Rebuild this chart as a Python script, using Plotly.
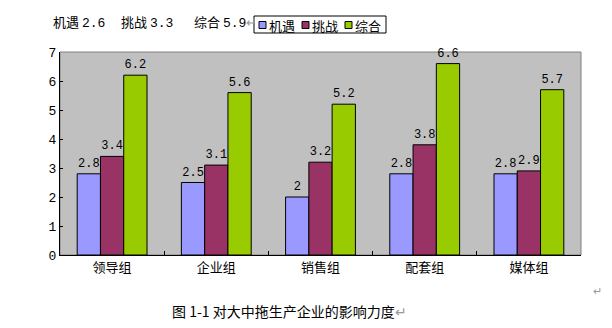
import plotly.graph_objects as go

categories = ["领导组", "企业组", "销售组", "配套组", "媒体组"]
series_names = ["机遇", "挑战", "综合"]
jiyu = [2.8, 2.5, 2.0, 2.8, 2.8]
tiaozhan = [3.4, 3.1, 3.2, 3.8, 2.9]
zonghe = [6.2, 5.6, 5.2, 6.6, 5.7]
y_ticks = [0, 1, 2, 3, 4, 5, 6, 7]
summary_labels = ["机遇", "挑战", "综合"]
summary_values = ["2.6", "3.3", "5.9"]
caption = "图 1-1 对大中拖生产企业的影响力度"

colors = ["#9999FF", "#993366", "#99CC00"]
values = [jiyu, tiaozhan, zonghe]

W, H = 612, 328
L, R, T, B = 60, 31, 52, 73
pw, ph = W - L - R, H - T - B

def px(x):
    return (x - L) / pw

def py(y):
    return (H - B - y) / ph

num_font = "Liberation Mono, Noto Sans CJK SC, monospace"
cjk_font = "Noto Sans CJK SC, sans-serif"

fig = go.Figure()
for name, vals, c in zip(series_names, values, colors):
    fig.add_trace(go.Bar(
        x=categories, y=vals, name=name,
        marker=dict(color=c, line=dict(color="black", width=1)),
        text=[f"{v:g}" for v in vals], textposition="outside",
        textfont=dict(family=num_font, size=12, color="black"),
        cliponaxis=False, showlegend=False,
    ))

shapes = [dict(type="rect", xref="paper", yref="paper", x0=0, x1=1, y0=0, y1=1,
               line=dict(color="#808080", width=1), fillcolor="rgba(0,0,0,0)", layer="below")]
annotations = []

# manual legend
shapes.append(dict(type="rect", xref="paper", yref="paper",
                   x0=px(254), x1=px(386), y0=py(33), y1=py(16),
                   line=dict(color="black", width=1), fillcolor="white"))
sq_x = [259, 302, 345]
for name, c, sx in zip(series_names, colors, sq_x):
    shapes.append(dict(type="rect", xref="paper", yref="paper",
                       x0=px(sx), x1=px(sx + 7), y0=py(28.5), y1=py(21.5),
                       line=dict(color="black", width=1), fillcolor=c))
    annotations.append(dict(text=name, xref="paper", yref="paper", x=px(sx + 8), y=py(25),
                            xanchor="left", yanchor="middle", showarrow=False,
                            font=dict(family=cjk_font, size=13, color="black")))

sum_x = [51, 119, 192]
for i, (lab, val, sx) in enumerate(zip(summary_labels, summary_values, sum_x)):
    txt = f"{lab} <span style='font-family:Liberation Mono, monospace'>{val}</span>"
    if i == len(summary_labels) - 1:
        txt += "<span style='color:#999'>↵</span>"
    annotations.append(dict(text=txt, xref="paper", yref="paper", x=px(sx), y=py(22),
                            xanchor="left", yanchor="middle", showarrow=False,
                            font=dict(family=cjk_font, size=13, color="black")))
annotations.append(dict(text=caption + "<span style='color:#999'>↵</span>", xref="paper", yref="paper",
                        x=px(170), y=py(311), xanchor="left", yanchor="middle", showarrow=False,
                        font=dict(family=cjk_font, size=14, color="black")))
annotations.append(dict(text="↵", xref="paper", yref="paper", x=px(597), y=py(290),
                        xanchor="center", yanchor="middle", showarrow=False,
                        font=dict(family=cjk_font, size=11, color="#999999")))

fig.update_layout(
    width=W, height=H,
    margin=dict(l=L, r=R, t=T, b=B, pad=0),
    paper_bgcolor="white", plot_bgcolor="#C0C0C0",
    barmode="group", bargap=0.33, bargroupgap=0,
    shapes=shapes, annotations=annotations,
    font=dict(family=cjk_font, size=13, color="black"),
)
fig.update_xaxes(showline=True, linecolor="black", linewidth=1, ticks="inside", ticklen=4,
                 tickcolor="black", tickson="boundaries", showgrid=False,
                 tickfont=dict(family=cjk_font, size=13, color="black"), fixedrange=True)
fig.update_yaxes(range=[0, 7], tickvals=y_ticks, showline=True, linecolor="black", linewidth=1,
                 ticks="inside", ticklen=3, tickcolor="black", showgrid=False, zeroline=False,
                 tickfont=dict(family=num_font, size=13, color="black"), fixedrange=True)

fig.write_html("out.html")
